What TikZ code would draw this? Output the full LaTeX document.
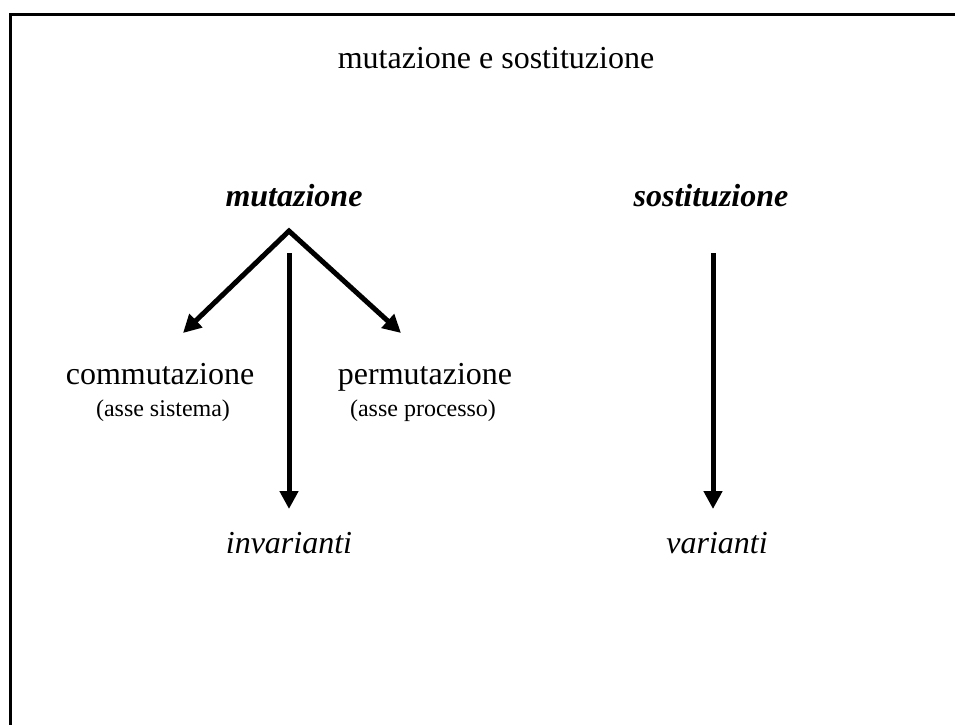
\documentclass[tikz,border=0pt]{standalone}
\usepackage{fontspec}
\setmainfont{Liberation Serif}
\usetikzlibrary{arrows.meta}
\begin{document}
\begin{tikzpicture}[x=1pt,y=-1pt,
  big/.style={font=\fontsize{32}{38}\selectfont, anchor=base, inner sep=0pt},
  bigbi/.style={font=\fontsize{32}{38}\selectfont\bfseries\itshape, anchor=base, inner sep=0pt},
  bigit/.style={font=\fontsize{32}{38}\selectfont\itshape, anchor=base, inner sep=0pt},
  small/.style={font=\fontsize{24}{28}\selectfont, anchor=base, inner sep=0pt},
  arr/.style={line width=5pt, -{Triangle[length=18pt,width=18pt]}},
  arr2/.style={line width=5pt, line join=miter, {Triangle[length=18pt,width=18pt]}-{Triangle[length=18pt,width=18pt]}}]
\useasboundingbox (0,0) rectangle (955,724);
\draw[line width=3pt] (10,730) -- (10,14) -- (960,14);
\node[big] (title) at (496,68) {mutazione e sostituzione};
\node[bigbi] (mut) at (294,206) {mutazione};
\node[bigbi] (sos) at (711,206) {sostituzione};
\node[big] (comm) at (160,384) {commutazione};
\node[small] (commsub) at (163,416) {(asse sistema)};
\node[big] (perm) at (425,384) {permutazione};
\node[small] (permsub) at (423,416) {(asse processo)};
\node[bigit] (inv) at (289,553) {invarianti};
\node[bigit] (var) at (717,553) {varianti};
\coordinate (apex) at (289,231);
\coordinate (lt) at (183,333);
\coordinate (rt) at (401,333);
\coordinate (m1) at (289,253);
\coordinate (m2) at (289,509);
\coordinate (s1) at (713,253);
\coordinate (s2) at (713,509);
\draw[arr2] (lt) -- (apex) -- (rt);
\draw[arr] (m1) -- (m2);
\draw[arr] (s1) -- (s2);
\end{tikzpicture}
\end{document}
